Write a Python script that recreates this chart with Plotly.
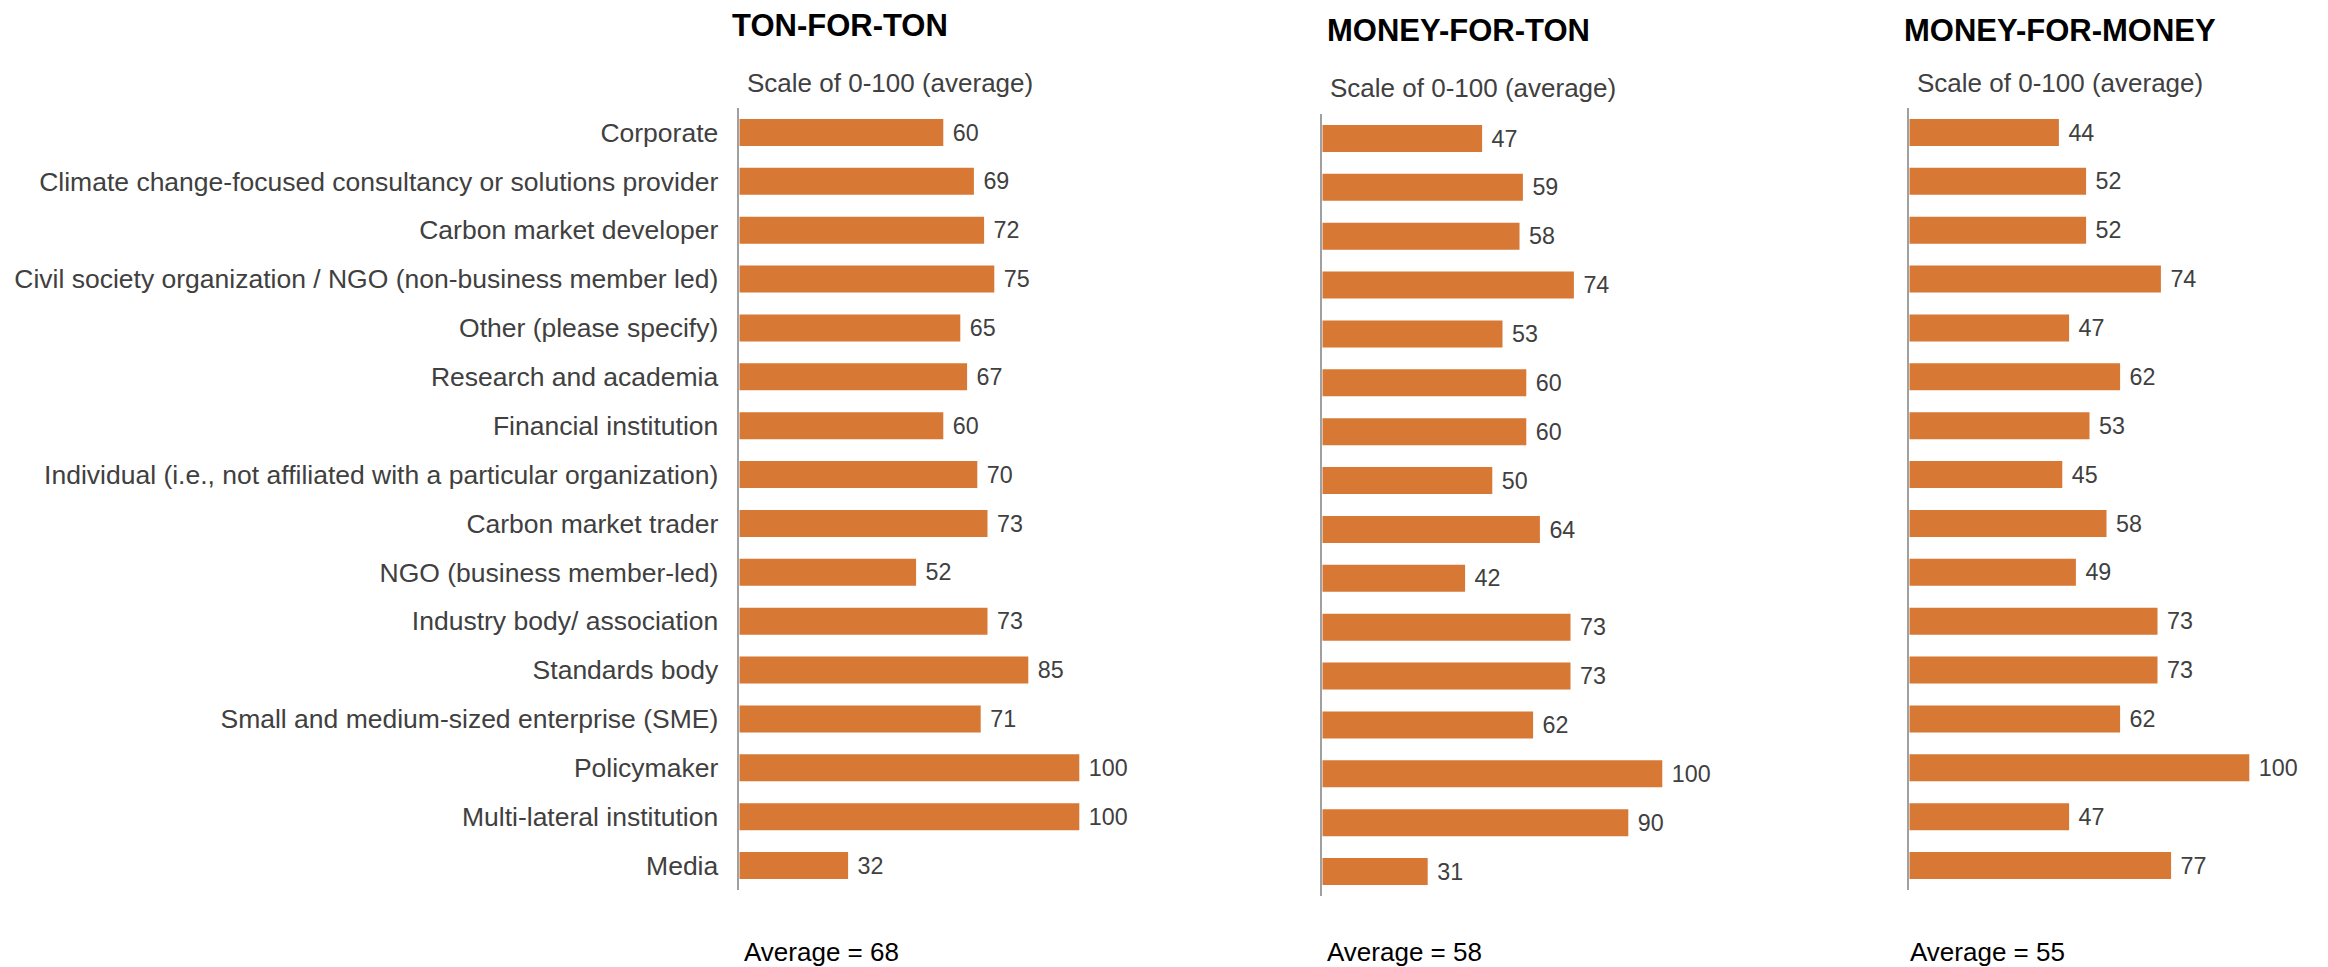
import plotly.graph_objects as go

categories = [
    "Corporate",
    "Climate change-focused consultancy or solutions provider",
    "Carbon market developer",
    "Civil society organization / NGO (non-business member led)",
    "Other (please specify)",
    "Research and academia",
    "Financial institution",
    "Individual (i.e., not affiliated with a particular organization)",
    "Carbon market trader",
    "NGO (business member-led)",
    "Industry body/ association",
    "Standards body",
    "Small and medium-sized enterprise (SME)",
    "Policymaker",
    "Multi-lateral institution",
    "Media",
]
ton_for_ton = [60, 69, 72, 75, 65, 67, 60, 70, 73, 52, 73, 85, 71, 100, 100, 32]
money_for_ton = [47, 59, 58, 74, 53, 60, 60, 50, 64, 42, 73, 73, 62, 100, 90, 31]
money_for_money = [44, 52, 52, 74, 47, 62, 53, 45, 58, 49, 73, 73, 62, 100, 47, 77]
panel_titles = ["TON-FOR-TON", "MONEY-FOR-TON", "MONEY-FOR-MONEY"]
averages = [68, 58, 55]
subtitle = "Scale of 0-100 (average)"

W, H = 2328, 967
OFF = 8  # page body margin shifts the figure by this much
FONT = "Liberation Sans, Arial, sans-serif"
BAR = "#D77934"
GRAY_TXT = "#404040"

# layout geometry (pixels, in page coordinates)
axis_x = [739.3, 1322.3, 1909.3]
y_top = [108, 114, 108]
y_bot = [890, 896, 890]
px_per_unit = 3.4
dom_w = 400
title_pos = [(730, 25), (1325, 30), (1902, 30)]
sub_pos = [(745, 83), (1328, 88), (1915, 83)]
avg_pos = [(742, 952), (1325, 952), (1908, 952)]

series = [ton_for_ton, money_for_ton, money_for_money]


def px(x):
    return (x - OFF) / W


def py(y):
    return 1 - (y - OFF) / H


fig = go.Figure()
for i, vals in enumerate(series):
    xa = "x" if i == 0 else f"x{i+1}"
    ya = "y" if i == 0 else f"y{i+1}"
    fig.add_trace(go.Bar(
        x=vals, y=categories, orientation="h",
        marker=dict(color=BAR, line=dict(width=0)),
        text=vals, texttemplate=" %{x}", textposition="outside",
        textfont=dict(family=FONT, size=26, color=GRAY_TXT),
        cliponaxis=False, xaxis=xa, yaxis=ya, showlegend=False,
        hoverinfo="x+y",
    ))

layout = dict(
    width=W, height=H,
    margin=dict(l=0, r=0, t=0, b=0),
    paper_bgcolor="white", plot_bgcolor="white",
    bargap=0.45,
    font=dict(family=FONT, color=GRAY_TXT),
    annotations=[],
)
for i in range(3):
    xk = "xaxis" if i == 0 else f"xaxis{i+1}"
    yk = "yaxis" if i == 0 else f"yaxis{i+1}"
    x0 = px(axis_x[i])
    x1 = min(1.0, px(axis_x[i] + dom_w))
    layout[xk] = dict(
        domain=[x0, x1], range=[0, dom_w / px_per_unit],
        visible=False, anchor="y" if i == 0 else f"y{i+1}",
        fixedrange=True,
    )
    layout[yk] = dict(
        domain=[py(y_bot[i]), py(y_top[i])],
        autorange="reversed", type="category",
        anchor="x" if i == 0 else f"x{i+1}",
        showline=True, linecolor="#A0A0A0", linewidth=1.5,
        showgrid=False, zeroline=False, ticks="",
        showticklabels=(i == 0),
        tickfont=dict(family=FONT, size=26.5, color=GRAY_TXT),
        ticklabelstandoff=14,
        fixedrange=True,
    )
    layout["annotations"].append(dict(
        text=f"<b>{panel_titles[i]}</b>", xref="paper", yref="paper",
        x=px(title_pos[i][0]), y=py(title_pos[i][1]),
        xanchor="left", yanchor="middle", showarrow=False,
        font=dict(family=FONT, size=31, color="black"),
    ))
    layout["annotations"].append(dict(
        text=subtitle, xref="paper", yref="paper",
        x=px(sub_pos[i][0]), y=py(sub_pos[i][1]),
        xanchor="left", yanchor="middle", showarrow=False,
        font=dict(family=FONT, size=26, color=GRAY_TXT),
    ))
    layout["annotations"].append(dict(
        text=f"Average = {averages[i]}", xref="paper", yref="paper",
        x=px(avg_pos[i][0]), y=py(avg_pos[i][1]),
        xanchor="left", yanchor="middle", showarrow=False,
        font=dict(family=FONT, size=26, color="black"),
    ))

fig.update_layout(**layout)
fig.write_html("out.html")
